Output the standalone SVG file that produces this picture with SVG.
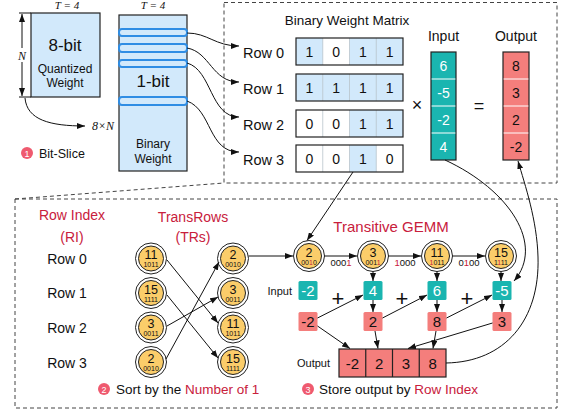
<svg xmlns="http://www.w3.org/2000/svg" width="564" height="412" viewBox="0 0 564 412">
  <defs>
    <marker id="arr" viewBox="0 0 8 6" markerWidth="8" markerHeight="6" refX="8" refY="3" orient="auto" markerUnits="userSpaceOnUse">
      <path d="M0,0 L8,3 L0,6 z" fill="#111"/>
    </marker>
    <g id="tr">
      <circle r="15.5" fill="#fff" stroke="#222" stroke-width="1"/>
      <circle r="12.5" fill="#fbcd6a" stroke="#222" stroke-width="1"/>
    </g>
  </defs>
  <style>
    text { font-family: "Liberation Sans", Arial, sans-serif; fill: #111; }
    .ital { font-family: "Liberation Serif", "Times New Roman", serif; font-style: italic; }
    .c { text-anchor: middle; }
    .red { fill: #c8203c; }
    .wt { fill: #fff; }
    .blue { fill: #d2e9fb; }
    .box { stroke: #222; stroke-width: 1.2; }
    .slice { fill: #d2e9fb; stroke: #2f8de4; stroke-width: 2; }
    .teal { fill: #1ab5b0; }
    .salmon { fill: #f47e7c; }
    .dash { fill: none; stroke: #444; stroke-width: 1; stroke-dasharray: 4 3; }
    .ln { fill: none; stroke: #111; stroke-width: 1; }
    .div { stroke: #fff; stroke-width: 1; }
    .gdiv { stroke: #b9c4cc; stroke-width: 0.8; }
    .num { font-size: 12.5px; }
    .bits { font-size: 7px; }
    .badge { fill: #ef5a6f; }
  </style>

  <!-- frames -->
  <g id="frames">
    <rect class="dash" x="224" y="2.5" width="333" height="180.5"/>
    <rect class="dash" x="15" y="199" width="542" height="209"/>
    <line class="dash" x1="15" y1="199" x2="224" y2="183"/>
  </g>

  <!-- 8-bit quantized weight -->
  <g id="quant">
    <text class="ital c" x="67" y="9" font-size="11">T = 4</text>
    <rect class="blue box" x="31" y="13" width="69" height="84"/>
    <text class="c" x="65" y="51" font-size="17">8-bit</text>
    <text class="c" x="65" y="73" font-size="12">Quantized</text>
    <text class="c" x="65" y="87" font-size="12">Weight</text>
    <line class="ln" x1="19" y1="13" x2="31" y2="13"/>
    <line class="ln" x1="19" y1="97" x2="31" y2="97"/>
    <line class="ln" x1="22" y1="48" x2="22" y2="14" marker-end="url(#arr)"/>
    <line class="ln" x1="22" y1="62" x2="22" y2="96" marker-end="url(#arr)"/>
    <text class="ital c" x="22" y="60" font-size="12">N</text>
    <path class="ln" d="M25,98 C27,120 50,126 85,126" marker-end="url(#arr)"/>
    <text class="ital" x="92" y="130" font-size="12">8×N</text>
  </g>

  <!-- 1-bit binary weight -->
  <g id="binary">
    <text class="ital c" x="153" y="9" font-size="11">T = 4</text>
    <rect class="blue box" x="119" y="15" width="68" height="156"/>
    <rect class="slice" x="119" y="29" width="68" height="7" rx="3"/>
    <rect class="slice" x="119" y="44" width="68" height="8" rx="3"/>
    <rect class="slice" x="119" y="60" width="68" height="7" rx="3"/>
    <rect class="slice" x="119" y="97" width="68" height="8" rx="3"/>
    <text class="c" x="153" y="87" font-size="17">1-bit</text>
    <text class="c" x="153" y="148" font-size="12">Binary</text>
    <text class="c" x="153" y="163" font-size="12">Weight</text>
  </g>

  <g id="step1">
    <circle class="badge" cx="27" cy="153" r="6"/>
    <text class="c wt" x="27" y="156.5" font-size="9">1</text>
    <text x="39" y="158" font-size="12.5">Bit-Slice</text>
  </g>

  <!-- binary weight matrix -->
  <g id="matrix">
    <text class="c" x="347" y="25" font-size="13.5">Binary Weight Matrix</text>
    <text x="243" y="58" font-size="14.5">Row 0</text>
    <text x="243" y="94" font-size="14.5">Row 1</text>
    <text x="243" y="130" font-size="14.5">Row 2</text>
    <text x="243" y="165" font-size="14.5">Row 3</text>
    <!-- Row 0: 1 0 1 1 -->
    <rect class="blue" x="296" y="38" width="26.75" height="27"/>
    <rect class="blue" x="349.5" y="38" width="53.5" height="27"/>
    <!-- Row 1: 1 1 1 1 -->
    <rect class="blue" x="296" y="74" width="107" height="27"/>
    <!-- Row 2: 0 0 1 1 -->
    <rect class="blue" x="349.5" y="110" width="53.5" height="27"/>
    <!-- Row 3: 0 0 1 0 -->
    <rect class="blue" x="349.5" y="145" width="26.75" height="27"/>
    <g class="gdiv">
      <line x1="322.75" y1="38" x2="322.75" y2="65"/><line x1="349.5" y1="38" x2="349.5" y2="65"/><line x1="376.25" y1="38" x2="376.25" y2="65"/>
      <line x1="322.75" y1="74" x2="322.75" y2="101"/><line x1="349.5" y1="74" x2="349.5" y2="101"/><line x1="376.25" y1="74" x2="376.25" y2="101"/>
      <line x1="322.75" y1="110" x2="322.75" y2="137"/><line x1="349.5" y1="110" x2="349.5" y2="137"/><line x1="376.25" y1="110" x2="376.25" y2="137"/>
      <line x1="322.75" y1="145" x2="322.75" y2="172"/><line x1="349.5" y1="145" x2="349.5" y2="172"/><line x1="376.25" y1="145" x2="376.25" y2="172"/>
    </g>
    <g fill="none" class="box">
      <rect x="296" y="38" width="107" height="27"/>
      <rect x="296" y="74" width="107" height="27"/>
      <rect x="296" y="110" width="107" height="27"/>
      <rect x="296" y="145" width="107" height="27"/>
    </g>
    <g class="c" font-size="14">
      <text x="309.4" y="57">1</text><text x="336.1" y="57">0</text><text x="362.9" y="57">1</text><text x="389.6" y="57">1</text>
      <text x="309.4" y="93">1</text><text x="336.1" y="93">1</text><text x="362.9" y="93">1</text><text x="389.6" y="93">1</text>
      <text x="309.4" y="129">0</text><text x="336.1" y="129">0</text><text x="362.9" y="129">1</text><text x="389.6" y="129">1</text>
      <text x="309.4" y="164">0</text><text x="336.1" y="164">0</text><text x="362.9" y="164">1</text><text x="389.6" y="164">0</text>
    </g>
  </g>

  <g id="times">
    <text class="c" x="417" y="111" font-size="18">×</text>
    <text class="c" x="479" y="112" font-size="18">=</text>
  </g>

  <!-- input vector -->
  <g id="input">
    <text class="c" x="443.5" y="41" font-size="14">Input</text>
    <rect class="teal box" x="431" y="52" width="25" height="108"/>
    <line class="div" x1="431.6" y1="79" x2="455.4" y2="79"/>
    <line class="div" x1="431.6" y1="106" x2="455.4" y2="106"/>
    <line class="div" x1="431.6" y1="133" x2="455.4" y2="133"/>
    <g class="c" font-size="14">
      <text x="443.5" y="70.5" class="wt">6</text>
      <text x="443.5" y="97.5" class="wt">-5</text>
      <text x="443.5" y="124.5" class="wt">-2</text>
      <text x="443.5" y="151.5" class="wt">4</text>
    </g>
  </g>

  <!-- output vector -->
  <g id="output">
    <text class="c" x="516" y="41" font-size="14">Output</text>
    <rect class="salmon box" x="503" y="52" width="26" height="108"/>
    <line class="div" x1="503.6" y1="79" x2="528.4" y2="79"/>
    <line class="div" x1="503.6" y1="106" x2="528.4" y2="106"/>
    <line class="div" x1="503.6" y1="133" x2="528.4" y2="133"/>
    <g class="c" font-size="14">
      <text x="516" y="70.5">8</text>
      <text x="516" y="97.5">3</text>
      <text x="516" y="124.5">2</text>
      <text x="516" y="151.5">-2</text>
    </g>
  </g>

  <!-- row index column -->
  <g id="rowindex">
    <text class="c red" x="72" y="220" font-size="14">Row Index</text>
    <text class="c red" x="72" y="242" font-size="14">(RI)</text>
    <text class="c" x="67" y="264" font-size="14">Row 0</text>
    <text class="c" x="67" y="298" font-size="14">Row 1</text>
    <text class="c" x="67" y="333" font-size="14">Row 2</text>
    <text class="c" x="67" y="368" font-size="14">Row 3</text>
  </g>

  <!-- TransRows before sorting -->
  <g id="trs-unsorted">
    <text class="c red" x="193" y="222" font-size="14">TransRows</text>
    <text class="c red" x="193" y="242" font-size="14">(TRs)</text>
    <g transform="translate(151,258.5)"><use href="#tr"/><text class="c num" y="0.5">11</text><text class="c bits" y="8.5">1011</text></g>
    <g transform="translate(151,293)"><use href="#tr"/><text class="c num" y="0.5">15</text><text class="c bits" y="8.5">1111</text></g>
    <g transform="translate(151,327.5)"><use href="#tr"/><text class="c num" y="0.5">3</text><text class="c bits" y="8.5">0011</text></g>
    <g transform="translate(151,362)"><use href="#tr"/><text class="c num" y="0.5">2</text><text class="c bits" y="8.5">0010</text></g>
  </g>

  <!-- TransRows after sorting -->
  <g id="trs-sorted">
    <g transform="translate(233,258.5)"><use href="#tr"/><text class="c num" y="0.5">2</text><text class="c bits" y="8.5">0010</text></g>
    <g transform="translate(233,293)"><use href="#tr"/><text class="c num" y="0.5">3</text><text class="c bits" y="8.5">0011</text></g>
    <g transform="translate(233,327.5)"><use href="#tr"/><text class="c num" y="0.5">11</text><text class="c bits" y="8.5">1011</text></g>
    <g transform="translate(233,362)"><use href="#tr"/><text class="c num" y="0.5">15</text><text class="c bits" y="8.5">1111</text></g>
  </g>

  <g id="step2">
    <circle class="badge" cx="104" cy="389" r="6"/>
    <text class="c wt" x="104" y="392.5" font-size="9">2</text>
    <text x="116" y="394" font-size="13.5">Sort by the <tspan class="red">Number of 1</tspan></text>
  </g>

  <!-- transitive GEMM chain -->
  <g id="gemm">
    <text class="c red" x="391" y="232" font-size="15">Transitive GEMM</text>
    <g transform="translate(309,256)"><use href="#tr"/><text class="c num" y="0.5">2</text><text class="c bits" y="8.5">00<tspan class="red">1</tspan>0</text></g>
    <g transform="translate(373,256)"><use href="#tr"/><text class="c num" y="0.5">3</text><text class="c bits" y="8.5">001<tspan class="red">1</tspan></text></g>
    <g transform="translate(437,256)"><use href="#tr"/><text class="c num" y="0.5">11</text><text class="c bits" y="8.5"><tspan class="red">1</tspan>011</text></g>
    <g transform="translate(501,256)"><use href="#tr"/><text class="c num" y="0.5">15</text><text class="c bits" y="8.5">1<tspan class="red">1</tspan>11</text></g>
    <text class="c" x="341" y="266" font-size="9.5">000<tspan class="red">1</tspan></text>
    <text class="c" x="405" y="266" font-size="9.5"><tspan class="red">1</tspan>000</text>
    <text class="c" x="469" y="266" font-size="9.5">0<tspan class="red">1</tspan>00</text>
  </g>

  <g id="gemm-input">
    <text x="292" y="295" font-size="11" text-anchor="end">Input</text>
    <rect class="teal" x="298.5" y="281" width="19" height="19" rx="1.5"/>
    <rect class="teal" x="363.5" y="281" width="19" height="19" rx="1.5"/>
    <rect class="teal" x="427.5" y="281" width="19" height="19" rx="1.5"/>
    <rect class="teal" x="492.5" y="281" width="19" height="19" rx="1.5"/>
    <g class="c" font-size="15">
      <text class="wt" x="308" y="296">-2</text>
      <text class="wt" x="373" y="296">4</text>
      <text class="wt" x="437" y="296">6</text>
      <text class="wt" x="502" y="296">-5</text>
    </g>
  </g>

  <g id="gemm-partial">
    <rect class="salmon" x="298.5" y="312" width="19" height="19" rx="1.5"/>
    <rect class="salmon" x="363.5" y="312" width="19" height="19" rx="1.5"/>
    <rect class="salmon" x="427.5" y="312" width="19" height="19" rx="1.5"/>
    <rect class="salmon" x="492.5" y="312" width="19" height="19" rx="1.5"/>
    <g class="c" font-size="15">
      <text x="308" y="327">-2</text>
      <text x="373" y="327">2</text>
      <text x="437" y="327">8</text>
      <text x="502" y="327">3</text>
    </g>
    <g class="c" font-size="22">
      <text x="338" y="306">+</text>
      <text x="402" y="306">+</text>
      <text x="467" y="306">+</text>
    </g>
  </g>

  <g id="gemm-output">
    <text x="330" y="367" font-size="11" text-anchor="end">Output</text>
    <rect class="salmon box" x="339" y="349" width="107" height="28"/>
    <g stroke="#222" stroke-width="1.2">
      <line x1="365.75" y1="349" x2="365.75" y2="377"/>
      <line x1="392.5" y1="349" x2="392.5" y2="377"/>
      <line x1="419.25" y1="349" x2="419.25" y2="377"/>
    </g>
    <g class="c" font-size="15">
      <text x="352.4" y="368.5">-2</text>
      <text x="379.1" y="368.5">2</text>
      <text x="405.9" y="368.5">3</text>
      <text x="432.6" y="368.5">8</text>
    </g>
  </g>

  <g id="step3">
    <circle class="badge" cx="308" cy="389" r="6"/>
    <text class="c wt" x="308" y="392.5" font-size="9">3</text>
    <text x="319" y="394" font-size="13.5">Store output by <tspan class="red">Row Index</tspan></text>
  </g>

  <!-- connectors -->
  <g id="connectors" class="ln">
    <!-- bit-slices to matrix rows -->
    <path d="M187,33 C208,33 215,46 239,46" marker-end="url(#arr)"/>
    <path d="M187,48 C210,52 212,82 239,82" marker-end="url(#arr)"/>
    <path d="M187,63 C212,70 210,117 239,117" marker-end="url(#arr)"/>
    <path d="M187,101 C212,110 208,152 239,152" marker-end="url(#arr)"/>
    <!-- row 3 into first transitive row -->
    <line x1="353" y1="172" x2="307" y2="240.5" marker-end="url(#arr)"/>
    <!-- input vector to last input cell -->
    <path d="M445,160 C510,190 545,245 514,281" marker-end="url(#arr)"/>
    <!-- output rows back to output vector -->
    <path d="M446,363 C505,362 540,320 538,257 C537,220 525,185 518,161" marker-end="url(#arr)"/>
    <!-- sorting -->
    <line x1="167" y1="260" x2="218" y2="323" marker-end="url(#arr)"/>
    <line x1="167" y1="295" x2="218" y2="358" marker-end="url(#arr)"/>
    <line x1="167" y1="326" x2="218" y2="297" marker-end="url(#arr)"/>
    <line x1="166" y1="359" x2="219" y2="262" marker-end="url(#arr)"/>
    <!-- chain -->
    <line x1="248.5" y1="256" x2="293" y2="256" marker-end="url(#arr)"/>
    <line x1="324.5" y1="256" x2="357" y2="256" marker-end="url(#arr)"/>
    <line x1="388.5" y1="256" x2="421" y2="256" marker-end="url(#arr)"/>
    <line x1="452.5" y1="256" x2="485" y2="256" marker-end="url(#arr)"/>
    <!-- circles to inputs -->
    <line x1="373" y1="271.5" x2="373" y2="281" marker-end="url(#arr)"/>
    <line x1="437" y1="271.5" x2="437" y2="281" marker-end="url(#arr)"/>
    <line x1="501" y1="271.5" x2="501" y2="281" marker-end="url(#arr)"/>
    <!-- inputs to partial sums -->
    <line x1="373" y1="300" x2="373" y2="312" marker-end="url(#arr)"/>
    <line x1="437" y1="300" x2="437" y2="312" marker-end="url(#arr)"/>
    <line x1="502" y1="300" x2="502" y2="312" marker-end="url(#arr)"/>
    <!-- partial sums carried forward -->
    <line x1="317.5" y1="318" x2="363" y2="295" marker-end="url(#arr)"/>
    <line x1="382.5" y1="318" x2="427" y2="295" marker-end="url(#arr)"/>
    <line x1="446.5" y1="318" x2="492" y2="295" marker-end="url(#arr)"/>
    <!-- partial sums stored by row index -->
    <line x1="317.5" y1="326" x2="350" y2="348.5" marker-end="url(#arr)"/>
    <line x1="375" y1="331" x2="378" y2="348.5" marker-end="url(#arr)"/>
    <line x1="436" y1="331" x2="433" y2="348.5" marker-end="url(#arr)"/>
    <line x1="492.5" y1="323" x2="408" y2="348.5" marker-end="url(#arr)"/>
  </g>
</svg>
